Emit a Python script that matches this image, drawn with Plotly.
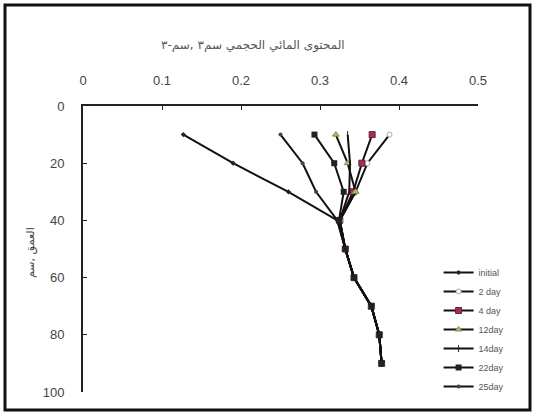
import plotly.graph_objects as go

depth = [10, 20, 30, 40, 50, 60, 70, 80, 90]
initial = [0.127, 0.19, 0.26, 0.322, 0.332, 0.343, 0.365, 0.375, 0.378]
day2 = [0.388, 0.360, 0.345, 0.325, 0.332, 0.343, 0.365, 0.375, 0.378]
day4 = [0.366, 0.353, 0.342, 0.325, 0.332, 0.343, 0.365, 0.375, 0.378]
day12 = [0.320, 0.335, 0.345, 0.325, 0.332, 0.343, 0.365, 0.375, 0.378]
day14 = [0.335, 0.338, 0.337, 0.325, 0.332, 0.343, 0.365, 0.375, 0.378]
day22 = [0.293, 0.318, 0.330, 0.324, 0.332, 0.343, 0.365, 0.375, 0.378]
day25 = [0.250, 0.278, 0.295, 0.322, 0.332, 0.343, 0.365, 0.375, 0.378]

names = ["initial", "2 day", "4 day", "12day", "14day", "22day", "25day"]
series = [initial, day2, day4, day12, day14, day22, day25]
x_ticks = [0, 0.1, 0.2, 0.3, 0.4, 0.5]
y_ticks = [0, 20, 40, 60, 80, 100]

markers = [
    dict(symbol="diamond", size=4, color="#222222"),
    dict(symbol="circle", size=5, color="white", line=dict(color="#aaaaaa", width=1)),
    dict(symbol="square", size=6, color="#a0305a", line=dict(color="#6a1f3c", width=1)),
    dict(symbol="triangle-up", size=6, color="#b8b870", line=dict(color="#8a8a50", width=1)),
    dict(symbol="line-ns", size=5, color="#222222", line=dict(color="#222222", width=1)),
    dict(symbol="square", size=6, color="#222222"),
    dict(symbol="circle", size=4, color="#444444"),
]

# draw order: 22day last so its black squares sit on top at depth
order = [0, 1, 2, 3, 4, 6, 5]
fig = go.Figure()
for i in order:
    fig.add_trace(go.Scatter(x=series[i], y=depth, mode="lines+markers", name=names[i],
                             legendrank=i + 1,
                             line=dict(color="#111111", width=2), marker=markers[i]))

axis_font = dict(family="Liberation Sans, Arial, sans-serif", size=13, color="#444444")
fig.update_layout(
    width=535, height=415,
    margin=dict(l=83, r=57, t=106, b=23),
    paper_bgcolor="white", plot_bgcolor="white",
    showlegend=True,
    legend=dict(x=1.08, y=(392 - 258) / 286, xanchor="right", yanchor="top",
                font=dict(family="Liberation Sans, Arial, sans-serif", size=9, color="#555555"),
                tracegroupgap=0, itemwidth=30, bgcolor="rgba(0,0,0,0)"),
    xaxis=dict(range=[0, 0.5], side="top", tickvals=x_ticks,
               ticktext=[str(v) for v in x_ticks],
               showgrid=False, zeroline=False, showline=True, linecolor="#222222", linewidth=2,
               ticks="inside", ticklen=4, tickcolor="#222222", tickfont=axis_font,
               ticklabelstandoff=14),
    yaxis=dict(range=[100, 0], tickvals=y_ticks, ticktext=[str(v) for v in y_ticks],
               showgrid=False, zeroline=False, showline=True, linecolor="#222222", linewidth=2,
               ticks="inside", ticklen=4, tickcolor="#222222", tickfont=axis_font,
               ticklabelstandoff=14),
)

fig.add_shape(type="rect", xref="paper", yref="paper",
              x0=(5 - 83) / 395, x1=(530 - 83) / 395,
              y0=(392 - 410) / 286, y1=(392 - 5) / 286,
              line=dict(color="#111111", width=3), fillcolor="rgba(0,0,0,0)", layer="below")

fig.add_annotation(text="المحتوى المائي الحجمي سم٣ ,سم-٣", xref="paper", yref="paper",
                   x=(253 - 83) / 395, y=(392 - 36) / 286, showarrow=False,
                   font=dict(family="DejaVu Sans, sans-serif", size=12, color="#555555"))
fig.add_annotation(text="العمق ,سم", xref="paper", yref="paper",
                   x=(22 - 83) / 395, y=(392 - 253) / 286, showarrow=False, textangle=-90,
                   font=dict(family="DejaVu Sans, sans-serif", size=11, color="#444444"))

fig.write_html("out.html")
